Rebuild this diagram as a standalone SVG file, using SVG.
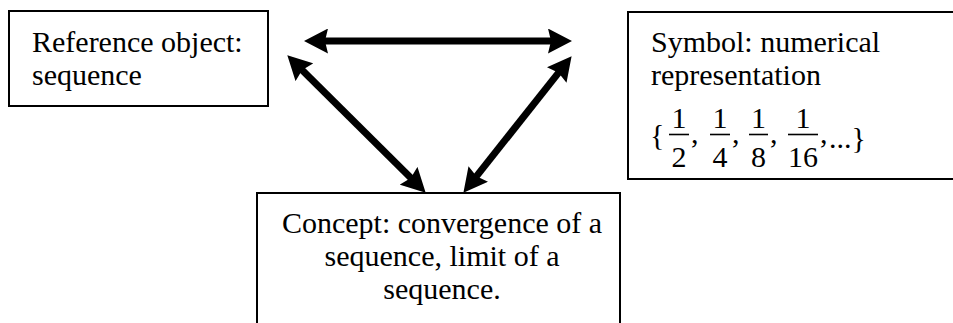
<svg xmlns="http://www.w3.org/2000/svg" width="953" height="323" viewBox="0 0 953 323">
<style>
.box{fill:#fff;stroke:#000;stroke-width:2}
.t{font-family:"Liberation Serif","Times New Roman",serif;font-size:30px;fill:#000}
.c{text-anchor:middle}
.conn{stroke:#000;stroke-width:7;fill:none;marker-start:url(#ah);marker-end:url(#ah)}
.bar{stroke:#000;stroke-width:1.6}
</style>
<defs>
<marker id="ah" markerUnits="userSpaceOnUse" viewBox="0 0 24 25" markerWidth="24" markerHeight="25" refX="5" refY="12.5" orient="auto-start-reverse">
<path d="M0,0 L24,12.5 L0,25 L3,12.5 z" fill="#000"/>
</marker>
</defs>
<rect width="953" height="323" fill="#fff"/>
<g id="connectors">
<line class="conn" x1="323" y1="41" x2="553" y2="41"/>
<line class="conn" x1="300.8" y1="68.7" x2="412.2" y2="179.3"/>
<line class="conn" x1="559.8" y1="71.1" x2="475.2" y2="177.9"/>
</g>
<g id="reference">
<rect class="box" x="9" y="11" width="259" height="95"/>
<text class="t" x="32" y="52">Reference object:</text>
<text class="t" x="32" y="85">sequence</text>
</g>
<g id="symbol">
<rect class="box" x="628" y="12" width="340" height="167"/>
<text class="t" x="651" y="52">Symbol: numerical</text>
<text class="t" x="651" y="85">representation</text>
<text class="t" x="650" y="145">{</text>
<text class="t c" x="679" y="128">1</text>
<line class="bar" x1="669" y1="134.5" x2="689" y2="134.5"/>
<text class="t c" x="679" y="167">2</text>
<text class="t" x="691" y="143">,</text>
<text class="t c" x="720" y="128">1</text>
<line class="bar" x1="710" y1="134.5" x2="730" y2="134.5"/>
<text class="t c" x="720" y="167">4</text>
<text class="t" x="732" y="143">,</text>
<text class="t c" x="758.5" y="128">1</text>
<line class="bar" x1="749" y1="134.5" x2="768" y2="134.5"/>
<text class="t c" x="758.5" y="167">8</text>
<text class="t" x="770" y="143">,</text>
<text class="t c" x="803" y="128">1</text>
<line class="bar" x1="788" y1="134.5" x2="818" y2="134.5"/>
<text class="t c" x="803" y="167">16</text>
<text class="t" x="820" y="143">,</text>
<text class="t" x="829" y="148">...}</text>
</g>
<g id="concept">
<rect class="box" x="257" y="193" width="363" height="140"/>
<text class="t c" x="442" y="233">Concept: convergence of a</text>
<text class="t c" x="442" y="266">sequence, limit of a</text>
<text class="t c" x="442" y="299">sequence.</text>
</g>
</svg>
